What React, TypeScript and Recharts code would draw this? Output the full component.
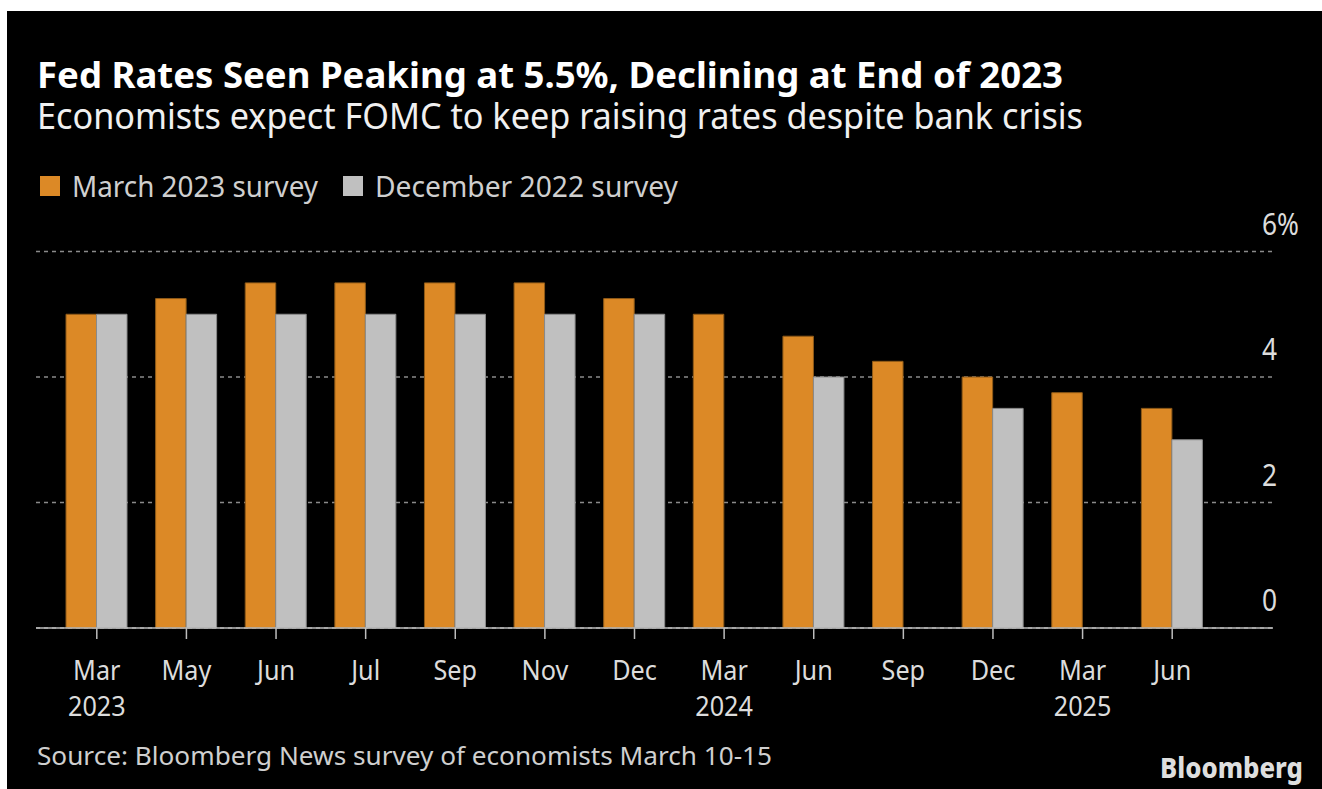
import React from "react";
import { BarChart, Bar, XAxis, YAxis, CartesianGrid } from "recharts";

const months = ["Mar", "May", "Jun", "Jul", "Sep", "Nov", "Dec", "Mar", "Jun", "Sep", "Dec", "Mar", "Jun"];
const years = ["2023", "", "", "", "", "", "", "2024", "", "", "", "2025", ""];
const march2023 = [5.0, 5.25, 5.5, 5.5, 5.5, 5.5, 5.25, 5.0, 4.65, 4.25, 4.0, 3.75, 3.5];
const dec2022 = [5.0, 5.0, 5.0, 5.0, 5.0, 5.0, 5.0, null, 4.0, null, 3.5, null, 3.0];
const yTicks = [0, 2, 4, 6];

const ORANGE = "#dc8926";
const GRAY = "#c0c0c0";
const FONT = "'Noto Sans', sans-serif";

const data = months.map((m, i) => ({
  key: `${m} ${years[i] || i}`,
  march: march2023[i],
  dec: dec2022[i],
}));

const XTick = ({ x, y, payload }: any) => {
  const i = payload.index;
  return (
    <g transform={`translate(${x},${y}) scale(0.9,1)`}>
      <text x={0} y={39} textAnchor="middle" fill="#dcdcdc" fontSize={28} fontFamily={FONT}>
        {months[i]}
      </text>
      {years[i] && (
        <text x={0} y={75} textAnchor="middle" fill="#dcdcdc" fontSize={28} fontFamily={FONT}>
          {years[i]}
        </text>
      )}
    </g>
  );
};

const YTick = ({ x, y, payload }: any) => (
  <g transform={`translate(${x - 11},${y - 17}) scale(0.85,1)`}>
    <text x={0} y={0} fill="#dcdcdc" fontSize={31} fontFamily={FONT}>
      {payload.value === 6 ? "6%" : payload.value}
    </text>
  </g>
);

export default function App() {
  return (
    <div style={{ position: "absolute", left: 0, top: 0, width: 1322, height: 789, background: "#fff", overflow: "hidden" }}>
      <div style={{ position: "absolute", left: 7, top: 11, right: 0, bottom: 0, background: "#000" }} />
      <div style={{ position: "absolute", left: 0, top: 0 }}>
        <BarChart
          width={1322}
          height={789}
          data={data}
          margin={{ top: 251.5, right: 0, bottom: 61, left: 36 }}
          barGap={0}
          barSize={30.5}
        >
          <CartesianGrid vertical={false} stroke="#8a8a8a" strokeDasharray="4 4" strokeWidth={1.5} />
          <XAxis
            dataKey="key"
            interval={0}
            height={100}
            padding={{ left: 16, right: 56 }}
            axisLine={{ stroke: "#bdbdbd", strokeWidth: 1.5 }}
            tickLine={{ stroke: "#bdbdbd", strokeWidth: 1.5 }}
            tickSize={11}
            tick={<XTick />}
          />
          <YAxis
            orientation="right"
            width={49}
            domain={[0, 6]}
            ticks={yTicks}
            axisLine={false}
            tickLine={false}
            tickSize={0}
            tickMargin={0}
            tick={<YTick />}
          />
          <Bar dataKey="march" fill={ORANGE} stroke="#8f5a18" strokeWidth={1} isAnimationActive={false} />
          <Bar dataKey="dec" fill={GRAY} stroke="#8a8a8a" strokeWidth={1} isAnimationActive={false} />
        </BarChart>
      </div>
      <svg width={1322} height={789} style={{ position: "absolute", left: 0, top: 0, pointerEvents: "none" }}>
        <text x={37} y={88} fill="#fff" fontSize={36} fontWeight={700} fontFamily={FONT} textLength={1026} lengthAdjust="spacingAndGlyphs">
          Fed Rates Seen Peaking at 5.5%, Declining at End of 2023
        </text>
        <text x={37} y={129} fill="#f0f0f0" fontSize={37} fontFamily={FONT} textLength={1046} lengthAdjust="spacingAndGlyphs">
          Economists expect FOMC to keep raising rates despite bank crisis
        </text>
        <rect x={40} y={176} width={20} height={20} fill={ORANGE} />
        <text x={72} y={197} fill="#cfcfcf" fontSize={29} fontFamily={FONT} textLength={246} lengthAdjust="spacingAndGlyphs">
          March 2023 survey
        </text>
        <rect x={343} y={176} width={20} height={20} fill={GRAY} />
        <text x={375} y={197} fill="#cfcfcf" fontSize={29} fontFamily={FONT} textLength={303} lengthAdjust="spacingAndGlyphs">
          December 2022 survey
        </text>
        <text x={37} y={765} fill="#cfcfcf" fontSize={26} fontFamily={FONT} textLength={735} lengthAdjust="spacingAndGlyphs">
          Source: Bloomberg News survey of economists March 10-15
        </text>
        <text x={1160} y={778} fill="#dedede" fontSize={28} fontWeight={800} fontFamily={FONT} textLength={143} lengthAdjust="spacingAndGlyphs">
          Bloomberg
        </text>
      </svg>
    </div>
  );
}
